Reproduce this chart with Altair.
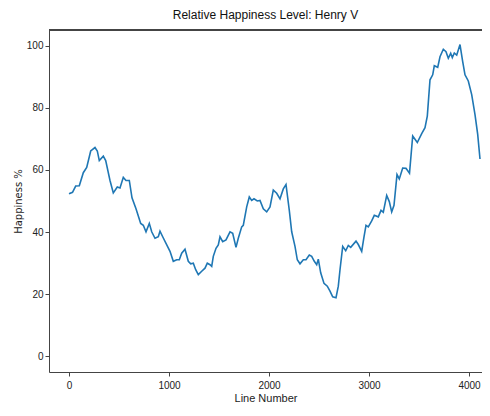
import altair as alt
import pandas as pd

line_number = [0, 35, 67, 103, 143, 177, 217, 260, 283, 303, 343, 367, 410, 443, 483, 510, 543, 570, 603,
               630, 670, 717, 743, 770, 803, 827, 860, 893, 910, 937, 970, 1010, 1043, 1077, 1103, 1127, 1160,
               1193, 1217, 1243, 1267, 1293, 1327, 1360, 1383, 1410, 1427, 1443, 1470, 1493, 1510, 1537, 1570,
               1610, 1637, 1670, 1693, 1727, 1743, 1777, 1803, 1827, 1850, 1883, 1910, 1943, 1977, 2010, 2043,
               2077, 2110, 2143, 2170, 2203, 2227, 2260, 2283, 2310, 2343, 2370, 2403, 2427, 2453, 2477, 2493,
               2517, 2550, 2583, 2610, 2637, 2670, 2693, 2710, 2737, 2767, 2793, 2817, 2870, 2893, 2927, 2950,
               2970, 2993, 3027, 3053, 3093, 3120, 3143, 3177, 3203, 3227, 3250, 3280, 3303, 3337, 3370, 3405,
               3437, 3483, 3527, 3560, 3583, 3610, 3637, 3653, 3687, 3710, 3743, 3770, 3793, 3817, 3833, 3853,
               3877, 3910, 3937, 3960, 3993, 4027, 4060, 4087, 4110]
happiness = [52.3, 52.8, 54.8, 54.9, 59.1, 60.8, 66.1, 67.2, 66.1, 63.0, 64.4, 63.0, 56.6, 52.6, 54.5, 54.2, 57.6, 56.6, 56.6,
             51.0, 47.5, 42.8, 42.2, 40.1, 42.8, 40.1, 38.0, 38.5, 40.3, 38.5, 36.4, 33.8, 30.6, 31.1, 31.1, 33.2, 34.5,
             30.6, 29.8, 30.0, 27.9, 26.3, 27.4, 28.4, 30.0, 29.5, 29.0, 32.2, 34.8, 35.9, 38.5, 36.9, 37.5,
             40.1, 39.6, 35.1, 38.0, 41.7, 42.2, 48.1, 51.3, 50.2, 50.7, 50.0, 50.2, 47.5, 46.5, 48.1, 53.5,
             52.5, 50.7, 53.9, 55.3, 47.0, 40.1, 35.4, 31.1, 29.8, 31.1, 31.1, 32.6, 32.2, 30.6, 29.5, 31.3,
             26.9, 23.5, 22.6, 21.0, 19.2, 18.9, 22.6, 27.9, 35.4, 34.0, 35.7, 35.1, 37.1, 36.0, 33.8, 38.5,
             42.2, 41.7, 43.6, 45.4, 44.9, 47.0, 46.4, 51.8, 49.8, 46.5, 48.6, 58.5, 57.1, 60.6, 60.5, 58.9,
             70.9, 68.8, 71.7, 73.6, 77.3, 89.0, 90.6, 93.5, 93.0, 96.4, 98.8, 98.0, 95.9, 97.5, 96.1, 97.6,
             96.9, 100.3, 94.8, 90.6, 88.6, 84.2, 77.8, 71.4, 63.5]

x_ticks = [0, 1000, 2000, 3000, 4000]
y_ticks = [0, 20, 40, 60, 80, 100]

df = pd.DataFrame({"line": line_number, "happy": happiness})

FONT = "Liberation Sans"
AXIS_COLOR = "#444"

x_scale = alt.Scale(domain=[-200, 4130], nice=False, zero=False)
y_scale = alt.Scale(domain=[-5, 105], nice=False, zero=False)

line = alt.Chart(df).mark_line(color="#1f77b4", strokeWidth=1.6).encode(
    x=alt.X("line:Q", scale=x_scale,
            axis=alt.Axis(title="Line Number", values=x_ticks, format="d", grid=False,
                          tickSize=4, tickColor=AXIS_COLOR, domainColor=AXIS_COLOR,
                          labelFont=FONT, labelFontSize=10, labelColor="#222",
                          titleFont=FONT, titleFontSize=11, titleFontWeight="normal",
                          titleColor="#222", labelPadding=4, titlePadding=2)),
    y=alt.Y("happy:Q", scale=y_scale,
            axis=alt.Axis(title="Happiness %", values=y_ticks, format="d", grid=False,
                          tickSize=4, tickColor=AXIS_COLOR, domainColor=AXIS_COLOR,
                          labelFont=FONT, labelFontSize=10, labelColor="#222",
                          titleFont="DejaVu Sans", titleFontSize=10, titleFontWeight="normal",
                          titleColor="#222", labelPadding=2, titlePadding=3)),
)

top_spine = alt.Chart(df).mark_rule(color=AXIS_COLOR, strokeWidth=1).encode(
    y=alt.value(0)
)

chart = alt.layer(line, top_spine).properties(
    width=433,
    height=342,
    title=alt.TitleParams("Relative Happiness Level: Henry V", font=FONT, fontSize=12,
                          fontWeight="normal", color="#111", offset=8),
    padding={"left": 41, "top": 22, "right": 0, "bottom": 36},
    autosize=alt.AutoSizeParams(type="none"),
).configure_view(stroke=None).configure(background="white")

chart.save("out.html", embed_options={"renderer": "svg", "actions": False})
